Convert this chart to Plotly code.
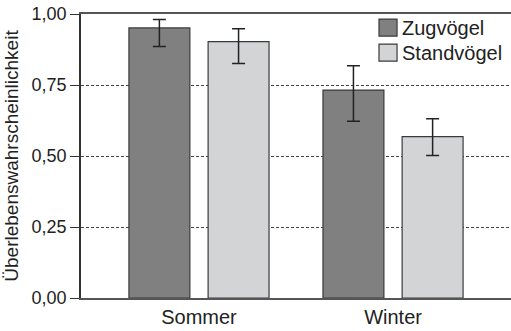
import plotly.graph_objects as go

# Survival probability by season for migratory vs. resident birds
seasons = ["Sommer", "Winter"]
series_names = ["Zugvögel", "Standvögel"]
zug_values = [0.951, 0.732]
zug_err_plus = [0.030, 0.086]
zug_err_minus = [0.065, 0.110]
stand_values = [0.903, 0.568]
stand_err_plus = [0.045, 0.063]
stand_err_minus = [0.077, 0.066]
y_ticks = [0.0, 0.25, 0.5, 0.75, 1.0]

colors = ["#808080", "#d3d4d6"]
font_family = "Liberation Sans, Arial, sans-serif"

bar_width = 0.314
offsets = [-0.361, 0.047]

fig = go.Figure()
for name, vals, ep, em, col, off in [
    (series_names[0], zug_values, zug_err_plus, zug_err_minus, colors[0], offsets[0]),
    (series_names[1], stand_values, stand_err_plus, stand_err_minus, colors[1], offsets[1]),
]:
    fig.add_trace(go.Bar(
        x=seasons, y=vals, name=name,
        width=bar_width, offset=off,
        marker=dict(color=col, line=dict(color="#3a3a3a", width=1.2)),
        error_y=dict(type="data", symmetric=False, array=ep, arrayminus=em,
                     color="#222222", thickness=1.5, width=6.5),
        showlegend=False,
    ))

# Legend drawn as boxes + labels in the upper right corner
legend_x0 = 0.693
row_y = [0.952, 0.864]
for name, col, yc in zip(series_names, colors, row_y):
    fig.add_shape(type="rect", xref="paper", yref="paper",
                  x0=legend_x0, x1=legend_x0 + 0.042,
                  y0=yc - 0.03, y1=yc + 0.03,
                  fillcolor=col, line=dict(color="#3a3a3a", width=1.2))
    fig.add_annotation(xref="paper", yref="paper", x=legend_x0 + 0.048, y=yc,
                       text=name, showarrow=False, xanchor="left", yanchor="middle",
                       font=dict(family=font_family, size=20, color="#222222"))

fig.update_layout(
    width=511, height=331,
    margin=dict(l=81, r=0, t=14, b=33),
    plot_bgcolor="white", paper_bgcolor="white",
    barmode="overlay",
    separators=",.",
    font=dict(family=font_family, color="#222222"),
    xaxis=dict(
        type="category", range=[-0.608, 1.608],
        showline=True, linecolor="#555555", linewidth=2, mirror=True,
        ticks="", showgrid=False,
        tickfont=dict(size=20, color="#222222"),
    ),
    yaxis=dict(
        range=[0, 1], tickvals=y_ticks, tickformat=".2f",
        showline=True, linecolor="#333333", linewidth=1.5,
        ticks="outside", ticklen=9, tickwidth=1.2, tickcolor="#333333",
        showgrid=True, gridcolor="#444444", gridwidth=1, griddash="3px,2px",
        zeroline=False,
        tickfont=dict(size=18, color="#222222"),
        title=dict(text="Überlebenswahrscheinlichkeit",
                   font=dict(size=19, color="#222222"), standoff=8),
    ),
)

fig.write_html("out.html")
